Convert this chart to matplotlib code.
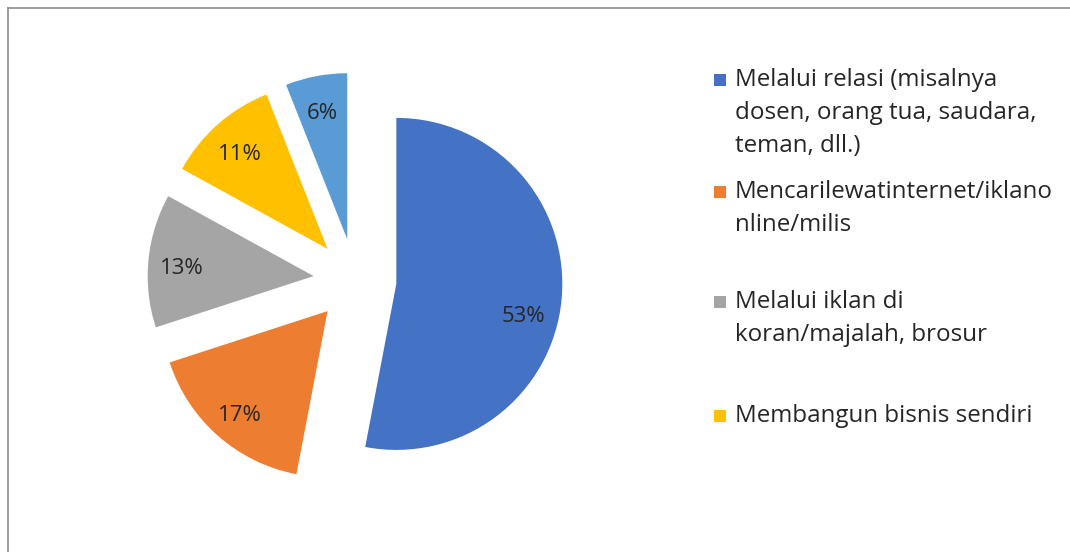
import matplotlib
matplotlib.use("Agg")
import matplotlib.pyplot as plt
from matplotlib.patches import Rectangle
from matplotlib.lines import Line2D

# data
labels = ["Melalui relasi (misalnya\ndosen, orang tua, saudara,\nteman, dll.)",
          "Mencarilewatinternet/iklano\nnline/milis",
          "Melalui iklan di\nkoran/majalah, brosur",
          "Membangun bisnis sendiri",
          "Lainnya"]
values = [53, 17, 13, 11, 6]
colors = ["#4472C4", "#ED7D31", "#A5A5A5", "#FFC000", "#5B9BD5"]
shown_in_legend = 4  # legend in the original is cut off after 4 entries

plt.rcParams['font.family'] = ['Open Sans', 'DejaVu Sans']

W, H = 1070, 552
fig = plt.figure(figsize=(W / 100, H / 100), dpi=100)

# chart area border: only top and left edges are visible
fig.lines.append(Line2D([8 / W, 1.0], [1 - 8 / H, 1 - 8 / H], transform=fig.transFigure,
                        color="#8c8c8c", linewidth=1.2))
fig.lines.append(Line2D([8 / W, 8 / W], [0.0, 1 - 8 / H], transform=fig.transFigure,
                        color="#8c8c8c", linewidth=1.2))

# axes scaled so one unit of radius = r_px pixels, pie centre at (cx, cy) px from top-left
r_px = 166.0
cx, cy = 355.0, 280.0
ax = fig.add_axes([0, 0, 1, 1])

wedges, texts, autotexts = ax.pie(values, colors=colors, startangle=90, counterclock=False,
                                  explode=[0.25] * len(values), radius=1.0,
                                  autopct=lambda p: "%.0f%%" % p, pctdistance=0.8,
                                  wedgeprops=dict(linewidth=0))
ax.set_aspect("auto")
ax.set_xlim(-cx / r_px, (W - cx) / r_px)
ax.set_ylim(-(H - cy) / r_px, cy / r_px)
ax.axis("off")
for i, t in enumerate(autotexts):
    t.set_fontsize(16)
    t.set_color("#262626")
    x, y = t.get_position()
    dy = 20 if i == 0 else 5  # excel "best fit" sits the labels a bit lower
    t.set_position((x - 5 / r_px if i == 0 else x, y - dy / r_px))

# legend drawn by hand to follow the wrapped layout
first_line_y = [80, 192, 302, 416]
step = 33
for i in range(shown_in_legend):
    y0 = first_line_y[i]
    fig.patches.append(Rectangle((714 / W, 1 - (y0 + 6) / H), 12 / W, 12 / H,
                                 transform=fig.transFigure, facecolor=colors[i], edgecolor="none"))
    for j, line in enumerate(labels[i].split("\n")):
        fig.text(735 / W, 1 - (y0 + j * step) / H, line, fontsize=17.4, color="#262626",
                 ha="left", va="center")

fig.savefig("out.png", dpi=100)
